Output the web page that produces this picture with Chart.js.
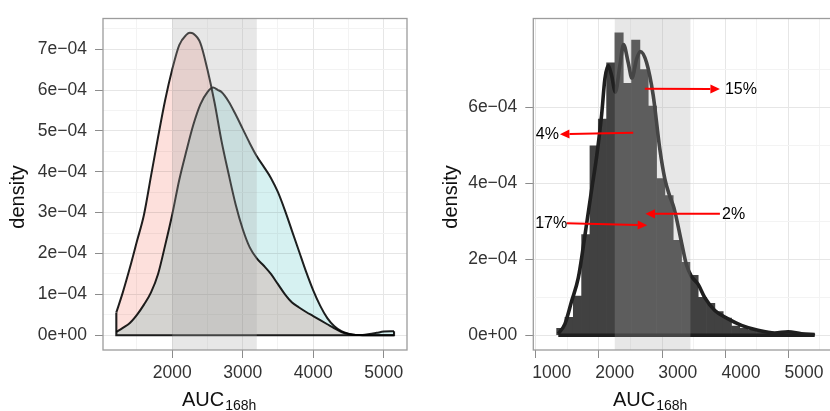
<!DOCTYPE html>
<html>
<head>
<meta charset="utf-8">
<title>AUC168h density</title>
<style>
html, body { margin: 0; padding: 0; background: #fff; overflow: hidden; width: 830px; height: 411px; }
#left { position: absolute; left: 0; top: 0; }
#right { position: absolute; left: 415px; top: 0; }
</style>
</head>
<body>
<canvas id="left" width="415" height="411"></canvas>
<canvas id="right" width="430" height="411"></canvas>
<script src="https://cdn.jsdelivr.net/npm/chart.js@4/dist/chart.umd.min.js"></script>
<script>
// densities are in units of 1e-04
// left panel: two density curves
var pinkX = [1208, 1300, 1400, 1500, 1600, 1700, 1800, 1900, 2000, 2100, 2200, 2250, 2300, 2400, 2500, 2600, 2700, 2800, 2900, 3000, 3100, 3200, 3300, 3400, 3500, 3600, 3700, 3800, 3900, 4000, 4100, 4200, 4300, 4400, 4500, 4600, 4700, 4800, 4900, 5000, 5146];
var pinkY = [0.56, 1.05, 1.65, 2.3, 2.95, 3.9, 4.85, 5.75, 6.5, 7.1, 7.35, 7.4, 7.38, 7.15, 6.5, 5.7, 4.75, 3.95, 3.2, 2.6, 2.15, 1.88, 1.7, 1.5, 1.25, 1.0, 0.8, 0.68, 0.57, 0.47, 0.37, 0.27, 0.17, 0.08, 0.03, 0.01, 0, 0, 0, 0, 0];
var cyanX = [1208, 1300, 1400, 1500, 1600, 1700, 1800, 1900, 2000, 2100, 2200, 2300, 2400, 2500, 2580, 2650, 2700, 2800, 2900, 3000, 3100, 3200, 3300, 3400, 3500, 3600, 3700, 3800, 3900, 4000, 4100, 4200, 4300, 4400, 4500, 4600, 4700, 4800, 4900, 5000, 5100, 5146];
var cyanY = [0.08, 0.18, 0.3, 0.5, 0.75, 1.05, 1.5, 2.2, 2.95, 3.8, 4.5, 5.15, 5.65, 5.95, 6.06, 6.0, 5.95, 5.72, 5.4, 5.05, 4.7, 4.38, 4.12, 3.85, 3.5, 3.05, 2.55, 2.05, 1.55, 1.1, 0.72, 0.42, 0.22, 0.1, 0.04, 0.01, 0.01, 0.03, 0.06, 0.09, 0.1, 0.1];

// right panel: histogram + density
var histX = [1145, 1277, 1409, 1541, 1673, 1805, 1937, 2069, 2201, 2333, 2465, 2597, 2729, 2861, 2993, 3125, 3257, 3389, 3521, 3653, 3785, 3917, 4049, 4181, 4313, 4445, 4577, 4709, 4841, 4973, 5105];
var histY = [0.18, 0.47, 1.03, 2.65, 4.99, 5.70, 7.18, 7.97, 6.64, 7.78, 7.00, 6.04, 4.13, 3.68, 2.5, 1.92, 1.58, 1.0, 0.84, 0.62, 0.45, 0.24, 0.18, 0.13, 0.09, 0.07, 0.05, 0.05, 0.05, 0.03, 0.03];
var densX = [1105, 1211, 1317, 1422, 1527, 1633, 1712, 1792, 1844, 1896, 1950, 2010, 2081, 2140, 2213, 2272, 2346, 2405, 2504, 2609, 2715, 2794, 2873, 2940, 3058, 3138, 3217, 3323, 3428, 3586, 3797, 4009, 4271, 4536, 4747, 4959, 5169];
var densY = [0.04, 0.30, 0.90, 1.51, 2.63, 3.83, 4.70, 5.81, 6.76, 7.11, 6.85, 6.41, 7.11, 7.66, 7.19, 6.78, 7.28, 7.48, 7.19, 6.33, 4.9, 4.12, 3.66, 3.35, 2.45, 1.85, 1.55, 1.34, 0.99, 0.65, 0.43, 0.26, 0.13, 0.06, 0.09, 0.04, 0.02];

// shaded band
var bandFrom = 2000, bandTo = 3200;

// arrows and their labels (right panel)
var arrowLabels = ['15%', '4%', '2%', '17%'];
var arrowFromX = [2477, 2293, 3667, 1237];
var arrowFromY = [6.50, 5.34, 3.20, 2.95];
var arrowToX = [3667, 1131, 2487, 2514];
var arrowToY = [6.49, 5.30, 3.20, 2.90];
var labelX = [3746, 1115, 3701, 1247];
var labelY = [6.47, 5.28, 3.18, 2.95];
var labelAlign = ['left', 'right', 'left', 'right'];

// ticks
var leftXMajor = [2000, 3000, 4000, 5000], leftXMinor = [1500, 2500, 3500, 4500];
var leftYMajor = [0, 1, 2, 3, 4, 5, 6, 7], leftYMinor = [0.5, 1.5, 2.5, 3.5, 4.5, 5.5, 6.5, 7.5];
var rightXMajor = [1000, 2000, 3000, 4000, 5000], rightXMinor = [1500, 2500, 3500, 4500];
var rightYMajor = [0, 2, 4, 6], rightYMinor = [1, 3, 5, 7];

var FONT = '"Liberation Sans", Arial, Helvetica, sans-serif';

function pts(xs, ys) {
    return xs.map(function (x, i) { return { x: x, y: ys[i] }; });
}
function fmtX(v) { return String(v); }
function fmtY(v) { return v === 0 ? '0e+00' : v + 'e\u221204'; }

function axis(min, max, majors, minors, fmt, fitKey, fitVal, pad) {
    function isMajor(c) { return c.tick && majors.indexOf(c.tick.value) >= 0; }
    return {
        type: 'linear', min: min, max: max, offset: false,
        afterBuildTicks: function (s) {
            s.ticks = majors.concat(minors).sort(function (a, b) { return a - b; })
                .map(function (v) { return { value: v }; });
        },
        afterFit: function (s) { s[fitKey] = fitVal; },
        border: { display: false },
        grid: {
            color: function (c) { return isMajor(c) ? '#e6e6e6' : '#f3f3f3'; },
            lineWidth: 1,
            tickLength: 8,
            tickColor: function (c) { return isMajor(c) ? '#8c8c8c' : 'rgba(0,0,0,0)'; },
            tickWidth: 1
        },
        ticks: {
            autoSkip: false, maxRotation: 0, padding: pad, color: '#333',
            font: { family: FONT, size: 17.5 },
            callback: function (v) { return majors.indexOf(v) >= 0 ? fmt(v) : ''; }
        }
    };
}

// band, panel border, axis titles; optional multiply blending for the fills
function panelPlugin(opt) {
    return {
        id: 'panel',
        beforeDatasetsDraw: function (chart) {
            if (opt.multiply) chart.ctx.globalCompositeOperation = 'multiply';
        },
        afterDatasetsDraw: function (chart) {
            var ctx = chart.ctx, a = chart.chartArea, x = chart.scales.x;
            ctx.globalCompositeOperation = 'source-over';
            ctx.save();
            var x0 = x.getPixelForValue(bandFrom), x1 = x.getPixelForValue(bandTo);
            ctx.fillStyle = 'rgba(170,170,170,0.28)';
            ctx.fillRect(x0, a.top, x1 - x0, a.bottom - a.top);
            ctx.restore();
        },
        afterDraw: function (chart) {
            var ctx = chart.ctx, a = chart.chartArea;
            ctx.save();
            ctx.strokeStyle = '#9c9c9c';
            ctx.lineWidth = 1.3;
            ctx.strokeRect(a.left, a.top, a.right - a.left, a.bottom - a.top);
            ctx.fillStyle = '#111';
            ctx.font = '20px ' + FONT;
            ctx.textAlign = 'center';
            ctx.textBaseline = 'middle';
            ctx.translate(opt.densityX, 197);
            ctx.rotate(-Math.PI / 2);
            ctx.fillText('density', 0, 0);
            ctx.restore();

            ctx.save();
            ctx.fillStyle = '#111';
            ctx.textAlign = 'left';
            ctx.textBaseline = 'alphabetic';
            ctx.font = '20px ' + FONT;
            ctx.fillText('AUC', opt.aucX, 406);
            var w = ctx.measureText('AUC').width;
            ctx.font = '14px ' + FONT;
            ctx.fillText('168h', opt.aucX + w + 1, 410);
            ctx.restore();
        }
    };
}

var arrowPlugin = {
    id: 'arrows',
    afterDraw: function (chart) {
        var ctx = chart.ctx, x = chart.scales.x, y = chart.scales.y;
        ctx.save();
        ctx.strokeStyle = '#ff0000';
        ctx.fillStyle = '#ff0000';
        ctx.lineWidth = 2;
        for (var i = 0; i < arrowLabels.length; i++) {
            var x0 = x.getPixelForValue(arrowFromX[i]), y0 = y.getPixelForValue(arrowFromY[i]);
            var x1 = x.getPixelForValue(arrowToX[i]), y1 = y.getPixelForValue(arrowToY[i]);
            var ang = Math.atan2(y1 - y0, x1 - x0);
            var head = 9.5, half = 4.6;
            var bx = x1 - head * Math.cos(ang), by = y1 - head * Math.sin(ang);
            ctx.beginPath();
            ctx.moveTo(x0, y0);
            ctx.lineTo(bx, by);
            ctx.stroke();
            ctx.beginPath();
            ctx.moveTo(x1, y1);
            ctx.lineTo(bx + half * Math.sin(ang), by - half * Math.cos(ang));
            ctx.lineTo(bx - half * Math.sin(ang), by + half * Math.cos(ang));
            ctx.closePath();
            ctx.fill();
        }
        ctx.fillStyle = '#000';
        ctx.font = '16px ' + FONT;
        ctx.textBaseline = 'middle';
        for (var j = 0; j < arrowLabels.length; j++) {
            ctx.textAlign = labelAlign[j];
            ctx.fillText(arrowLabels[j], x.getPixelForValue(labelX[j]), y.getPixelForValue(labelY[j]));
        }
        ctx.restore();
    }
};

var lineBase = { type: 'line', pointRadius: 0, borderColor: '#1f1f1f', cubicInterpolationMode: 'monotone' };

new Chart(document.getElementById('left'), {
    type: 'line',
    data: {
        datasets: [
            Object.assign({}, lineBase, {
                data: pts(pinkX, pinkY), fill: 'origin',
                backgroundColor: 'rgb(253,224,220)', borderWidth: 2
            }),
            Object.assign({}, lineBase, {
                data: pts(cyanX, cyanY), fill: 'origin',
                backgroundColor: 'rgb(214,241,241)', borderWidth: 2
            }),
            Object.assign({}, lineBase, {
                // closing edges of the two curves
                data: [
                    { x: pinkX[0], y: pinkY[0] },
                    { x: pinkX[0], y: 0 },
                    { x: cyanX[cyanX.length - 1], y: 0 },
                    { x: cyanX[cyanX.length - 1], y: cyanY[cyanY.length - 1] }
                ],
                cubicInterpolationMode: 'default', tension: 0, fill: false, borderWidth: 2.1
            })
        ]
    },
    options: {
        responsive: false, animation: false, events: [],
        layout: { padding: { left: 0, top: 12, right: 8, bottom: 0 } },
        plugins: { legend: { display: false }, tooltip: { enabled: false } },
        scales: {
            x: axis(1019, 5330, leftXMajor, leftXMinor, fmtX, 'height', 61, 5),
            y: axis(-0.36, 7.75, leftYMajor, leftYMinor, fmtY, 'width', 103, 8)
        }
    },
    plugins: [panelPlugin({ multiply: true, densityX: 18, aucX: 182 })]
});

new Chart(document.getElementById('right'), {
    type: 'bar',
    data: {
        datasets: [
            Object.assign({}, lineBase, {
                data: pts(densX, densY), fill: false, borderWidth: 3.6, order: 0
            }),
            Object.assign({}, lineBase, {
                data: [{ x: densX[0], y: 0 }, { x: densX[densX.length - 1], y: 0 }],
                fill: false, borderWidth: 3.6, order: 0, tension: 0
            }),
            {
                type: 'bar', data: pts(histX, histY), backgroundColor: '#414141',
                borderWidth: 0, barPercentage: 1, categoryPercentage: 1, grouped: false, order: 1
            }
        ]
    },
    options: {
        responsive: false, animation: false, events: [],
        layout: { padding: { left: 0, top: 11.7, right: 8, bottom: 0 } },
        plugins: { legend: { display: false }, tooltip: { enabled: false } },
        scales: {
            x: axis(709, 5523, rightXMajor, rightXMinor, fmtX, 'height', 61, 5),
            y: axis(-0.39, 8.35, rightYMajor, rightYMinor, fmtY, 'width', 118.3, 8)
        }
    },
    plugins: [panelPlugin({ multiply: false, densityX: 36, aucX: 198 }), arrowPlugin]
});
</script>
</body>
</html>
